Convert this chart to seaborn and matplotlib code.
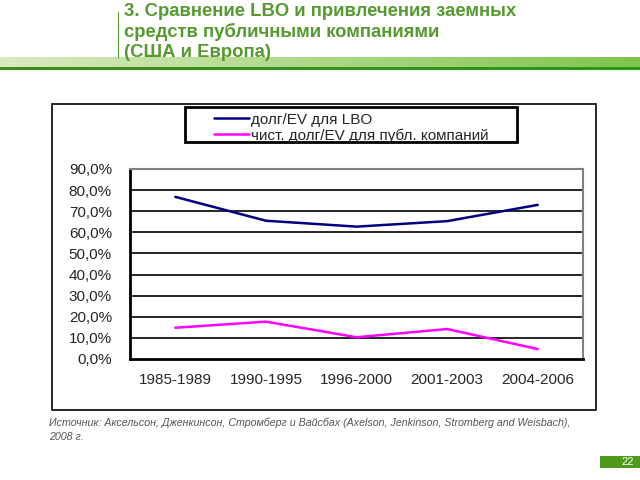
import numpy as np
import pandas as pd
import matplotlib
matplotlib.use('Agg')
import matplotlib.pyplot as plt
import seaborn as sns
from matplotlib.patches import Rectangle
from matplotlib.lines import Line2D
from matplotlib.ticker import FuncFormatter, FixedLocator

# данные
periods = ['1985-1989', '1990-1995', '1996-2000', '2001-2003', '2004-2006']
lbo_debt = [0.768, 0.655, 0.627, 0.653, 0.730]
public_debt = [0.148, 0.177, 0.103, 0.142, 0.047]
series_names = ['долг/EV для LBO', 'чист. долг/EV для публ. компаний']
colors = ['#000080', '#FF00FF']

df = pd.DataFrame({
    'Период': periods * 2,
    'Значение': lbo_debt + public_debt,
    'Серия': [series_names[0]] * 5 + [series_names[1]] * 5,
})

sns.set_style('white')
plt.rcParams['font.family'] = ['Liberation Sans', 'DejaVu Sans']

fig = plt.figure(figsize=(6.4, 4.8), dpi=100)
W, H = 640, 480

def fx(x):
    return x / W

def fy(y):
    return 1 - y / H

# зеленая полоса под заголовком
strip = fig.add_axes([0, fy(70), 1, (70 - 57) / H])
grad = np.linspace(0, 1, 256)
img = np.zeros((13, 256, 3))
for i in range(13):
    if i < 3:
        img[i] = np.stack([0.25 - 0.1 * grad, 0.55 + 0.05 * grad, 0.1 + 0 * grad], axis=1)
    else:
        img[i] = np.stack([0.85 - 0.35 * grad, 0.92 - 0.15 * grad, 0.75 - 0.45 * grad], axis=1)
strip.imshow(img, aspect='auto', extent=[0, 1, 0, 1], origin='lower')
strip.axis('off')

# заголовок
green = '#559a2f'
fig.text(fx(124), fy(3), '3. Сравнение LBO и привлечения заемных\nсредств публичными компаниями\n(США и Европа)',
         color=green, fontsize=13.3, fontweight='bold', va='top', ha='left', linespacing=1.22)
fig.add_artist(Line2D([fx(118), fx(118)], [fy(12), fy(57)], color=green, lw=0.8))

# рамка диаграммы
fig.add_artist(Rectangle((fx(52), fy(410)), fx(596) - fx(52), fy(104) - fy(410),
                         fill=False, edgecolor='black', lw=1.2, transform=fig.transFigure))

ax = fig.add_axes([fx(130), fy(359), fx(583) - fx(130), fy(169) - fy(359)])
sns.lineplot(data=df, x='Период', y='Значение', hue='Серия', palette=colors,
             linewidth=1.8, ax=ax, sort=False)

ax.set_ylim(0, 0.9)
ax.set_xlim(-0.5, 4.5)
ax.set_yticks(np.arange(0, 0.91, 0.1))
ax.yaxis.set_major_formatter(FuncFormatter(lambda v, p: f'{v*100:.1f}%'.replace('.', ',')))
ax.set_xticks(range(5))
ax.set_xticklabels(periods)
ax.xaxis.set_minor_locator(FixedLocator(np.arange(-0.5, 5, 1)))
ax.tick_params(axis='x', which='major', length=0, pad=10, labelsize=11)
ax.tick_params(axis='x', which='minor', length=5, width=2, color='black', direction='out')
ax.tick_params(axis='y', length=5, width=1.5, direction='out', color='black', labelsize=11, pad=8)
ax.set_xlabel('')
ax.set_ylabel('')

for v in np.arange(0.1, 0.85, 0.1):
    ax.axhline(v, color='black', lw=1.2, zorder=0)
ax.spines['left'].set_color('black')
ax.spines['left'].set_linewidth(2)
ax.spines['bottom'].set_color('black')
ax.spines['bottom'].set_linewidth(2)
ax.spines['top'].set_color('#808080')
ax.spines['top'].set_linewidth(1.5)
ax.spines['right'].set_color('#808080')
ax.spines['right'].set_linewidth(1.5)

# легенда
handles, labels = ax.get_legend_handles_labels()
ax.get_legend().remove()
fig.add_artist(Rectangle((fx(185), fy(142)), fx(517) - fx(185), fy(107) - fy(142),
                         fill=False, edgecolor='black', lw=2, transform=fig.transFigure, zorder=5))
fig.legend(handles, labels, loc='upper left', bbox_to_anchor=(fx(203), fy(102)),
           frameon=False, fontsize=11, handlelength=2.3, handletextpad=0.15,
           labelspacing=0.1, borderpad=0.2)

# источник
fig.text(fx(49), fy(418), 'Источник: Аксельсон, Дженкинсон, Стромберг и Вайсбах (Axelson, Jenkinson, Stromberg and Weisbach),\n2008 г.',
         fontsize=7.7, style='italic', color='#555555', va='top', ha='left', linespacing=1.5)

# номер слайда
fig.add_artist(Rectangle((fx(600), fy(468)), fx(640) - fx(600), fy(456) - fy(468),
                         facecolor='#4f9a1a', edgecolor='none', transform=fig.transFigure))
fig.text(fx(628), fy(462), '22', color='white', fontsize=8, ha='center', va='center')

fig.savefig('out.png', dpi=100)
